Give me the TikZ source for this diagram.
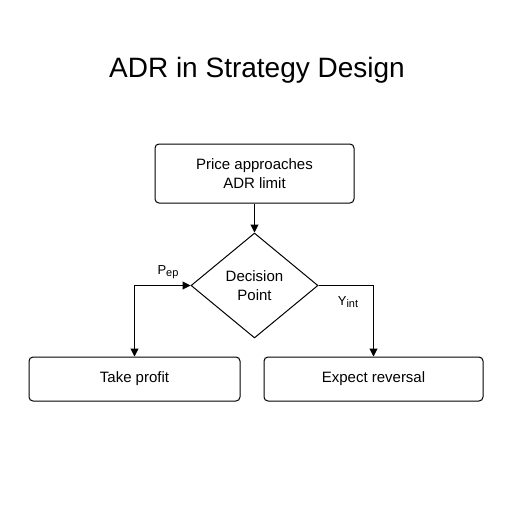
\documentclass[tikz,border=0pt]{standalone}
\usepackage{fontspec}
\setmainfont{Liberation Sans}
\usetikzlibrary{shapes.geometric,arrows.meta}
\newcommand{\mysub}[1]{\raisebox{-2.5pt}{\fontsize{11}{13}\selectfont #1}}
\begin{document}
\begin{tikzpicture}[x=1pt,y=-1pt,
  box/.style={draw, line width=1pt, rounded corners=4pt, inner sep=0pt, align=center, font=\fontsize{15}{19}\selectfont},
  dia/.style={draw, diamond, line width=1pt, inner sep=0pt, minimum width=127pt, minimum height=105pt, align=center, font=\fontsize{15}{19}\selectfont},
  conn/.style={line width=1pt, -{Triangle[length=8pt,width=8pt]}},
  lbl/.style={font=\fontsize{13}{15}\selectfont, inner sep=1pt}]
\useasboundingbox (0,0) rectangle (512,512);
\fill[white] (0,0) rectangle (512,512);
\node[font=\fontsize{28}{32}\selectfont] (title) at (257,70) {ADR in Strategy Design};
\node[box, minimum width=199pt, minimum height=59pt] (start) at (254.5,173.5) {Price approaches\\ADR limit};
\node[dia] (dec) at (254.5,285.5) {Decision\\Point};
\node[box, minimum width=211pt, minimum height=44pt] (take) at (134.5,379) {Take profit};
\node[box, minimum width=219pt, minimum height=44pt] (rev) at (373.5,379) {Expect reversal};
\draw[conn] (start) -- (dec);
\draw[conn, {Triangle[length=8pt,width=8pt]}-{Triangle[length=8pt,width=8pt]}] (take.north) |- (dec.west);
\draw[conn] (dec.east) -| (rev.north);
\node[lbl] (pep) at (168,272) {P\mysub{ep}};
\node[lbl] (yint) at (348,302) {Y\mysub{int}};
\end{tikzpicture}
\end{document}
